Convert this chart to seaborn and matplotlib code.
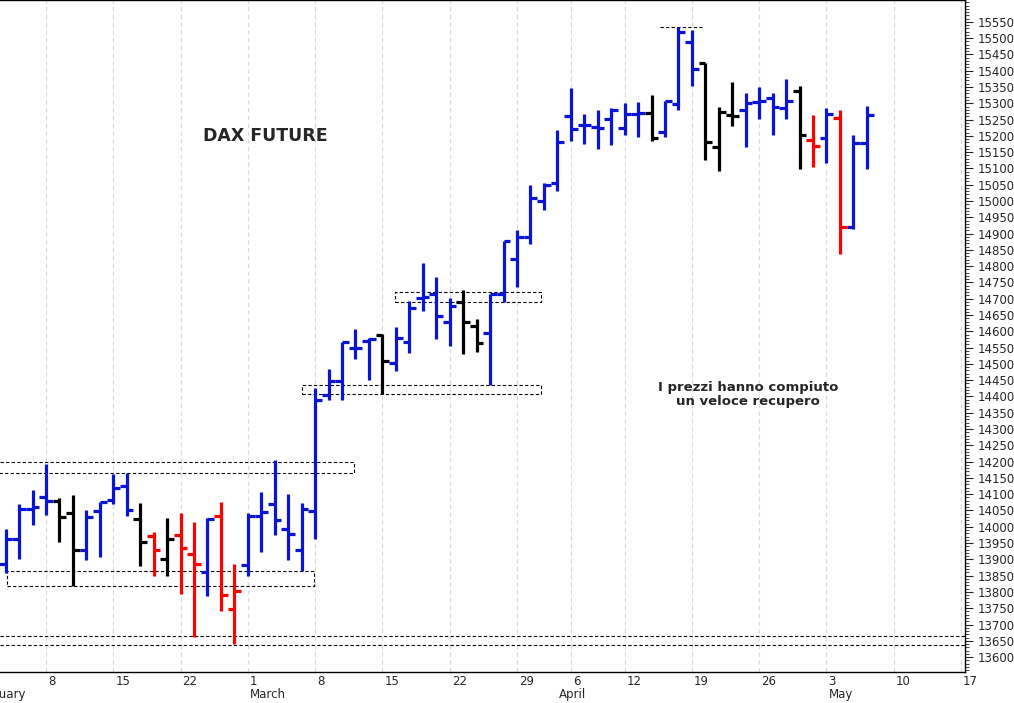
import matplotlib
matplotlib.use("Agg")
import matplotlib.pyplot as plt
import seaborn as sns
import numpy as np

sns.set_style("white")
plt.rcParams['font.family'] = ['DejaVu Sans']

# OHLC data (trading-day index 0 = 8 Feb)
opens  = [13887,13964,14056,14090,14079,14043,13928,14048,14082,14125,14025,13972,13902,13976,13915,13862,14033,13749,
          13882,14033,14069,13993,13928,14049,14404,14448,14550,14571,14588,14503,14568,14701,14714,14629,14691,14616,
          14595,14714,14821,14890,15000,15054,15262,15233,15228,15252,15223,15266,15269,15213,15297,15487,15423,15165,
          15265,15279,15303,15315,15286,15338,15187,15192,15254,14921,15177]
highs  = [13992,14071,14114,14192,14087,14097,14051,14077,14162,14164,14073,13984,14028,14041,14015,14027,14077,13885,
          14041,14107,14205,14102,14074,14425,14483,14568,14606,14578,14593,14614,14694,14811,14767,14703,14728,14637,
          14716,14877,14911,15049,15054,15218,15346,15266,15279,15286,15300,15305,15325,15307,15535,15525,15423,15289,
          15364,15333,15351,15333,15374,15354,15264,15286,15279,15202,15293]
lows   = [13858,13902,14005,14036,13954,13819,13897,13908,14071,14033,13879,13848,13848,13795,13662,13787,13742,13641,
          13848,13923,13976,13897,13864,13962,14390,14388,14516,14452,14409,14478,14532,14663,14576,14555,14530,14537,
          14435,14691,14735,14868,14972,15030,15184,15174,15161,15172,15204,15197,15184,15197,15279,15354,15126,15093,
          15231,15167,15252,15202,15252,15098,15105,15118,14836,14915,15098]
closes = [13964,14056,14061,14079,14030,13930,14030,14077,14118,14053,13952,13928,13962,13936,13887,14025,13790,13802,
          14033,14046,14022,13979,14056,14390,14448,14568,14550,14575,14508,14578,14673,14706,14646,14677,14629,14563,
          14714,14877,14890,15008,15049,15182,15221,15233,15223,15279,15266,15270,15194,15307,15518,15405,15180,15272,
          15260,15300,15308,15289,15307,15202,15169,15266,14921,15177,15264]
colors = list("BBBBKKBBBBKRKRRBRR" "BBBBBB" "BBBBKBBBBBKKBBBBBB" "BBBBBBKBBBKKKBBBBKRBRBB")
cmap = {"B": "#0a14d4", "K": "#000000", "R": "#ff0000"}

tick_idx = [0, 5, 10, 15, 20, 25, 30, 35, 39, 43, 48, 53, 58, 63, 68]
tick_lab = ["8", "15", "22", "1", "8", "15", "22", "29", "6", "12", "19", "26", "3", "10", "17"]
months = [(-5.5, "February"), (15, "March"), (38, "April"), (58, "May")]

x = np.arange(len(opens)) - 3
XL = (-3.42, 68.3)

fig = plt.figure(figsize=(10.14, 7.03), dpi=100)
ax = fig.add_axes([0, 0.044, 0.9517, 0.956])

for t in tick_idx:
    ax.axvline(t, color="#d8d8e0", ls=(0, (4, 3)), lw=0.8, zorder=0)

cols = [cmap[c] for c in colors]
w = 0.5
ax.vlines(x, lows, highs, colors=cols, lw=2.3, zorder=3)
ax.hlines(opens, x - w, x, colors=cols, lw=2.3, zorder=3)
ax.hlines(closes, x, x + w, colors=cols, lw=2.3, zorder=3)

dash = dict(color="black", ls=(0, (3, 2)), lw=0.8, zorder=2)
def box(x0, x1, y0, y1):
    ax.plot([x0, x1, x1, x0, x0], [y0, y0, y1, y1, y0], **dash)
px = lambda p: (p - 46) / 13.45
box(px(-5), px(354), 14165, 14199)
box(px(7), px(314), 13818, 13864)
box(px(302), px(541), 14408, 14435)
box(px(395), px(541), 14690, 14721)
ax.axhline(13664, **dash)
ax.axhline(13637, **dash)
ax.plot([px(660), px(702)], [15535, 15535], **dash)

ax.text(px(265), 15200, "DAX FUTURE", ha="center", va="center", fontsize=12.5, fontweight="bold")
ax.text(px(748), 14405, "I prezzi hanno compiuto\nun veloce recupero", ha="center", va="center",
        fontsize=9.5, fontweight="bold", linespacing=1.1)

ax.yaxis.tick_right()
ax.set_yticks(np.arange(13600, 15551, 50))
ax.set_yticks(np.arange(13560, 15611, 10), minor=True)
ax.tick_params(axis="y", which="major", length=6, labelsize=8.5, pad=3, direction="out")
ax.tick_params(axis="y", which="minor", length=3, direction="out")
ax.spines["left"].set_visible(False)
for s in ["right", "bottom", "top"]:
    ax.spines[s].set_linewidth(1.0)
    ax.spines[s].set_color("black")

ax.set_xticks(tick_idx)
ax.set_xticklabels([])
ax.tick_params(axis="x", length=16, direction="out", width=1.0)
ax.set_xlim(*XL)
ax.set_ylim(13554, 15617)
for t, l in zip(tick_idx, tick_lab):
    ax.text(t + 0.15, -0.004, l, transform=ax.get_xaxis_transform(), ha="left", va="top", fontsize=8.5)
for t, l in months:
    ax.text(t + 0.15, -0.024, l, transform=ax.get_xaxis_transform(), ha="left", va="top", fontsize=8.5)

fig.savefig("out.png", dpi=100)
